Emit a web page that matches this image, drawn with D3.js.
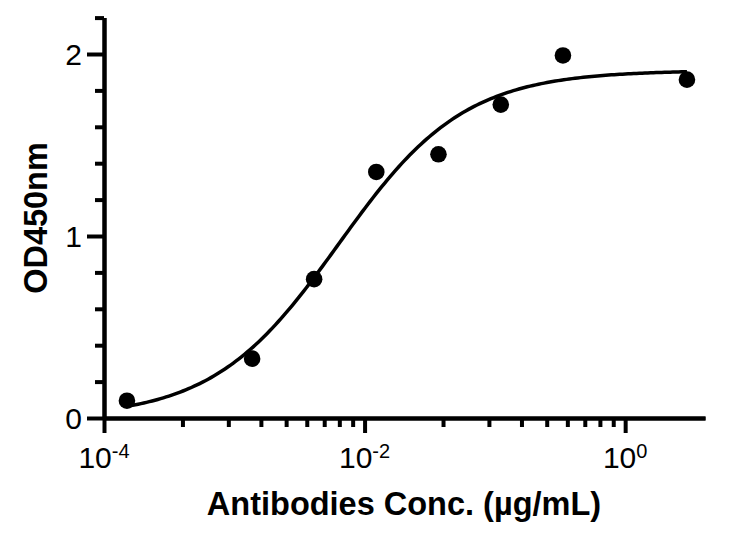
<!DOCTYPE html>
<html>
<head>
<meta charset="utf-8">
<script src="https://cdn.jsdelivr.net/npm/d3@7"></script>
<style>
  html, body { margin: 0; padding: 0; background: #fff; }
  svg { display: block; }
  text { font-family: "Liberation Sans", Arial, Helvetica, sans-serif; fill: #000; }
</style>
</head>
<body>
<svg id="chart" width="738" height="540"></svg>
<script>
// ---- data ----
const concentrations = [0.000150, 0.00137, 0.00410, 0.0123, 0.0369, 0.111, 0.333, 2.98]; // µg/mL
const od450 = [0.095, 0.326, 0.763, 1.352, 1.449, 1.722, 1.992, 1.859];

// 4-parameter logistic fit shown in the reference
const fitBottom = 0.0;
const fitTop = 1.91;
const fitLogEC50 = -2.2;
const fitHill = 0.9;

// axis ticks
const xMajorTicks = [1e-4, 1e-2, 1];
const xTickExponents = ["-4", "-2", "0"];
const xMax = 4.1;
const yMajorTicks = [0, 1, 2];
const yTickLabels = ["0", "1", "2"];
const yMinorTicks = [0.2, 0.4, 0.6, 0.8, 1.2, 1.4, 1.6, 1.8, 2.2];
const yMax = 2.2;

const xTitle = "Antibodies Conc. (µg/mL)";
const yTitle = "OD450nm";

// ---- layout ----
const svg = d3.select("#chart");
const x = d3.scaleLog().domain([1e-4, xMax]).range([104, 705]);
const y = d3.scaleLinear().domain([0, yMax]).range([418, 17.6]);

// minor x ticks: GraphPad style, k^2 steps within each two-decade major interval
const xMinorTicks = [];
for (let i = 0; i < xMajorTicks.length - 1; i++) {
  for (let k = 2; k <= 9; k++) xMinorTicks.push(xMajorTicks[i] * k * k);
}

const axisColor = "#000";
const axisWidth = 4;

const yMinorG = svg.append("g").attr("transform", "translate(104,0)")
  .call(d3.axisLeft(y).tickValues(yMinorTicks).tickSize(9).tickSizeOuter(0).tickFormat(() => ""));
const yG = svg.append("g").attr("transform", "translate(104,0)")
  .call(d3.axisLeft(y).tickValues(yMajorTicks).tickSize(17).tickSizeOuter(0).tickFormat(() => ""));
const xMinorG = svg.append("g").attr("transform", "translate(0,418)")
  .call(d3.axisBottom(x).tickValues(xMinorTicks).tickSize(9).tickSizeOuter(0).tickFormat(() => ""));
const xG = svg.append("g").attr("transform", "translate(0,418)")
  .call(d3.axisBottom(x).tickValues(xMajorTicks).tickSize(15).tickSizeOuter(0).tickFormat(() => ""));

[yMinorG, yG, xMinorG, xG].forEach(g => {
  g.selectAll("path.domain").attr("stroke", axisColor).attr("stroke-width", axisWidth).attr("fill", "none");
  g.selectAll(".tick line").attr("stroke", axisColor).attr("stroke-width", axisWidth);
  g.selectAll(".tick text").remove();
});

// y tick labels
svg.append("g").selectAll("text")
  .data(yMajorTicks)
  .join("text")
  .attr("x", 82)
  .attr("y", d => y(d) + 11)
  .attr("text-anchor", "end")
  .attr("font-size", 30)
  .text((d, i) => yTickLabels[i]);

// x tick labels 10^n
const xl = svg.append("g").selectAll("text")
  .data(xMajorTicks)
  .join("text")
  .attr("x", d => x(d))
  .attr("y", 468)
  .attr("text-anchor", "middle")
  .attr("font-size", 30);
xl.append("tspan").text("10");
xl.append("tspan").attr("font-size", 20).attr("dy", -10).text((d, i) => xTickExponents[i]);

// fit curve
const curveX = d3.range(0, 201).map(i => {
  const lo = Math.log10(concentrations[0]);
  const hi = Math.log10(concentrations[concentrations.length - 1]);
  return Math.pow(10, lo + (hi - lo) * i / 200);
});
const fit = c => fitBottom + (fitTop - fitBottom) / (1 + Math.pow(10, fitHill * (fitLogEC50 - Math.log10(c))));
svg.append("path")
  .datum(curveX)
  .attr("fill", "none")
  .attr("stroke", "#000")
  .attr("stroke-width", 3.5)
  .attr("d", d3.line().x(d => x(d)).y(d => y(fit(d))).curve(d3.curveLinear));

// data points
svg.append("g").selectAll("circle")
  .data(concentrations)
  .join("circle")
  .attr("cx", d => x(d))
  .attr("cy", (d, i) => y(od450[i]))
  .attr("r", 8.3)
  .attr("fill", "#000");

// axis titles
svg.append("text")
  .attr("x", 404)
  .attr("y", 515)
  .attr("text-anchor", "middle")
  .attr("font-size", 32.5)
  .attr("font-weight", "bold")
  .text(xTitle);

svg.append("text")
  .attr("transform", "translate(47,218) rotate(-90)")
  .attr("text-anchor", "middle")
  .attr("font-size", 32.5)
  .attr("font-weight", "bold")
  .text(yTitle);
</script>
</body>
</html>
